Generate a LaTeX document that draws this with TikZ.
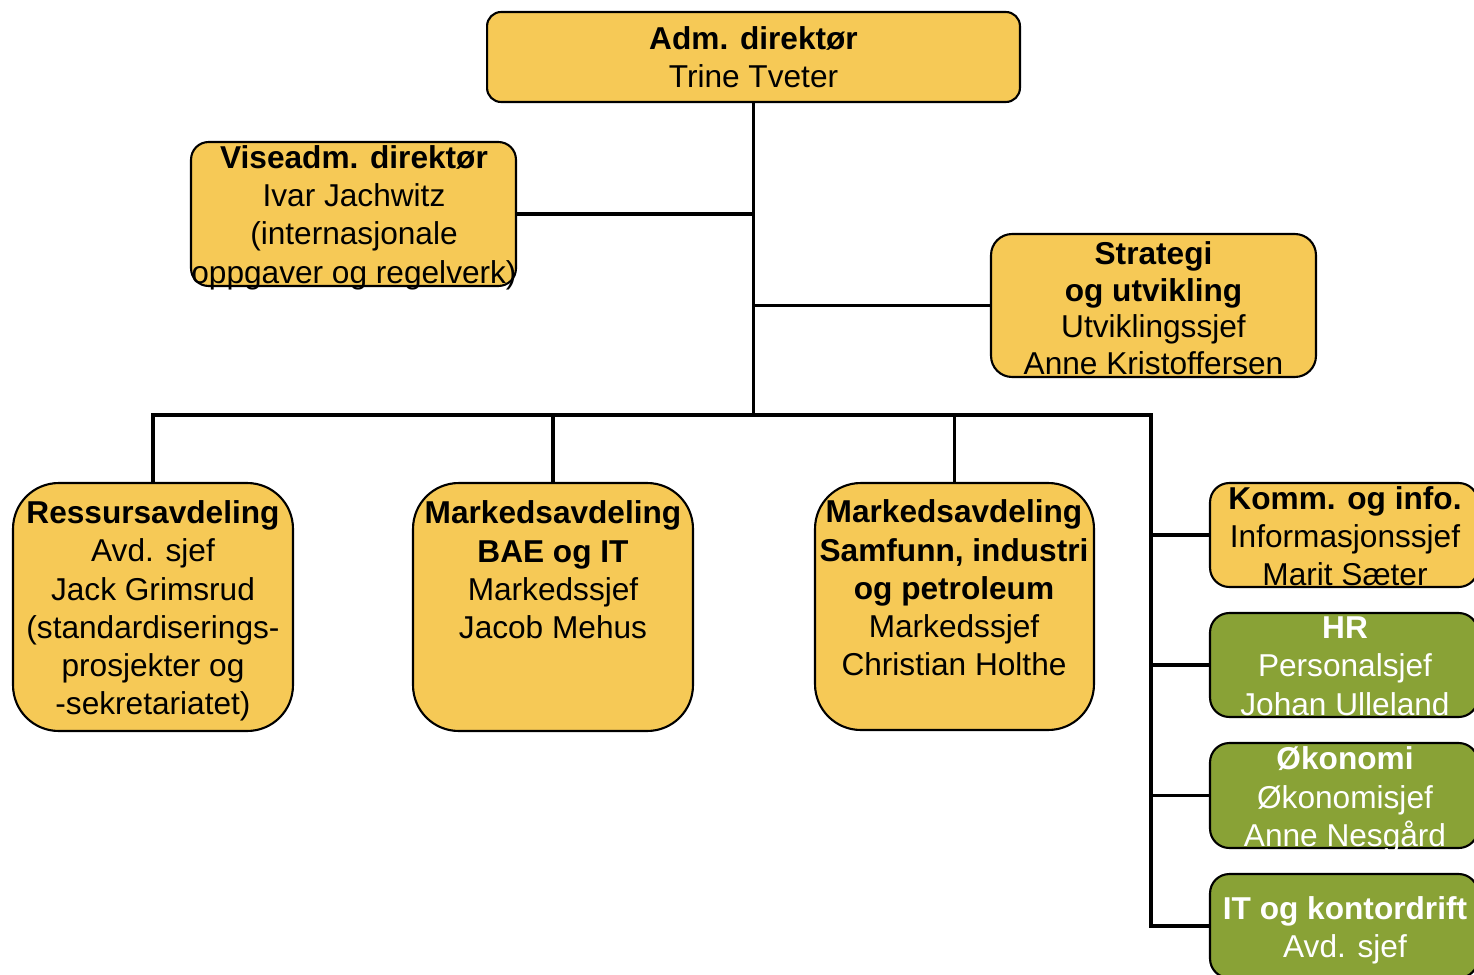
\documentclass[tikz,border=0pt]{standalone}
\usepackage{fontspec}
\setmainfont{Liberation Sans}
\definecolor{boxyellow}{RGB}{246,201,86}
\definecolor{boxgreen}{RGB}{137,162,54}
\tikzset{
  obox/.style={draw=black, line width=1.2pt, fill=boxyellow, rectangle, inner sep=0pt},
  gbox/.style={obox, fill=boxgreen},
  txt/.style={align=center, inner sep=0pt, font=\fontsize{18}{21.8}\selectfont},
  wtxt/.style={txt, text=white},
  conn/.style={draw=black, line width=2.1pt}
}
\begin{document}
\begin{tikzpicture}[x=0.02cm, y=-0.02cm]
\useasboundingbox (0,0) rectangle (1474,974);
\begin{scope}
\clip (0,0) rectangle (1474,974);
% boxes
\node[obox, rounded corners=8pt, minimum width=10.66cm, minimum height=1.8cm] (adm) at (753.5,57) {};
\node[obox, rounded corners=10pt, minimum width=6.5cm, minimum height=2.88cm] (vise) at (353.5,214) {};
\node[obox, rounded corners=12pt, minimum width=6.5cm, minimum height=2.86cm] (strat) at (1153.5,305.5) {};
\node[obox, rounded corners=26pt, minimum width=5.6cm, minimum height=4.96cm] (ress) at (153,607) {};
\node[obox, rounded corners=26pt, minimum width=5.6cm, minimum height=4.96cm] (bae) at (553,607) {};
\node[obox, rounded corners=26pt, minimum width=5.58cm, minimum height=4.94cm] (samf) at (954.5,606.5) {};
\node[obox, rounded corners=11pt, minimum width=5.36cm, minimum height=2.08cm] (komm) at (1344,535) {};
\node[gbox, rounded corners=11pt, minimum width=5.36cm, minimum height=2.08cm] (hr) at (1344,665) {};
\node[gbox, rounded corners=11pt, minimum width=5.36cm, minimum height=2.1cm] (okon) at (1344,795.5) {};
\node[gbox, rounded corners=11pt, minimum width=5.36cm, minimum height=2.08cm] (it) at (1344,926) {};
% connectors
\coordinate (busR) at (1151,415);
\draw[conn] (adm.south) -- (adm.south |- busR);
\draw[conn] (vise.east) -- (vise.east -| adm.south);
\draw[conn] (strat.west) -- (strat.west -| adm.south);
\draw[conn] (ress.north) -- (ress.north |- busR) -- (busR) -- (busR |- it.west) -- (it.west);
\draw[conn] (bae.north) -- (bae.north |- busR);
\draw[conn] (samf.north) -- (samf.north |- busR);
\draw[conn] (komm.west -| busR) -- (komm.west);
\draw[conn] (hr.west -| busR) -- (hr.west);
\draw[conn] (okon.west -| busR) -- (okon.west);
% texts
\node[txt] (admt) at (753.5,57.5) {\textbf{Adm. direktør}\\Trine Tveter};
\node[txt] (viset) at (354,217.5) {\textbf{Viseadm. direktør}\\Ivar Jachwitz\\(internasjonale\\oppgaver og regelverk)};
\node[txt, font=\fontsize{18}{20.8}\selectfont] (stratt) at (1153.5,308) {\textbf{Strategi}\\\textbf{og utvikling}\\Utviklingssjef\\Anne Kristoffersen};
\node[txt] (resst) at (153,611) {\textbf{Ressursavdeling}\\Avd. sjef\\Jack Grimsrud\\(standardiserings-\\prosjekter og\\-sekretariatet)};
\node[txt] (baet) at (553,570) {\textbf{Markedsavdeling}\\\textbf{BAE og IT}\\Markedssjef\\Jacob Mehus};
\node[txt] (samft) at (954,588) {\textbf{Markedsavdeling}\\\textbf{Samfunn, industri}\\\textbf{og petroleum}\\Markedssjef\\Christian Holthe};
\node[txt] (kommt) at (1345,536) {\textbf{Komm. og info.}\\Informasjonssjef\\Marit Sæter};
\node[wtxt] (hrt) at (1345,666) {\textbf{HR}\\Personalsjef\\Johan Ulleland};
\node[wtxt] (okont) at (1345,800) {\textbf{Økonomi}\\Økonomisjef\\Anne Nesgård};
\node[wtxt] (itt) at (1345,930.5) {\textbf{IT og kontordrift}\\Avd. sjef};
\end{scope}
\end{tikzpicture}
\end{document}
